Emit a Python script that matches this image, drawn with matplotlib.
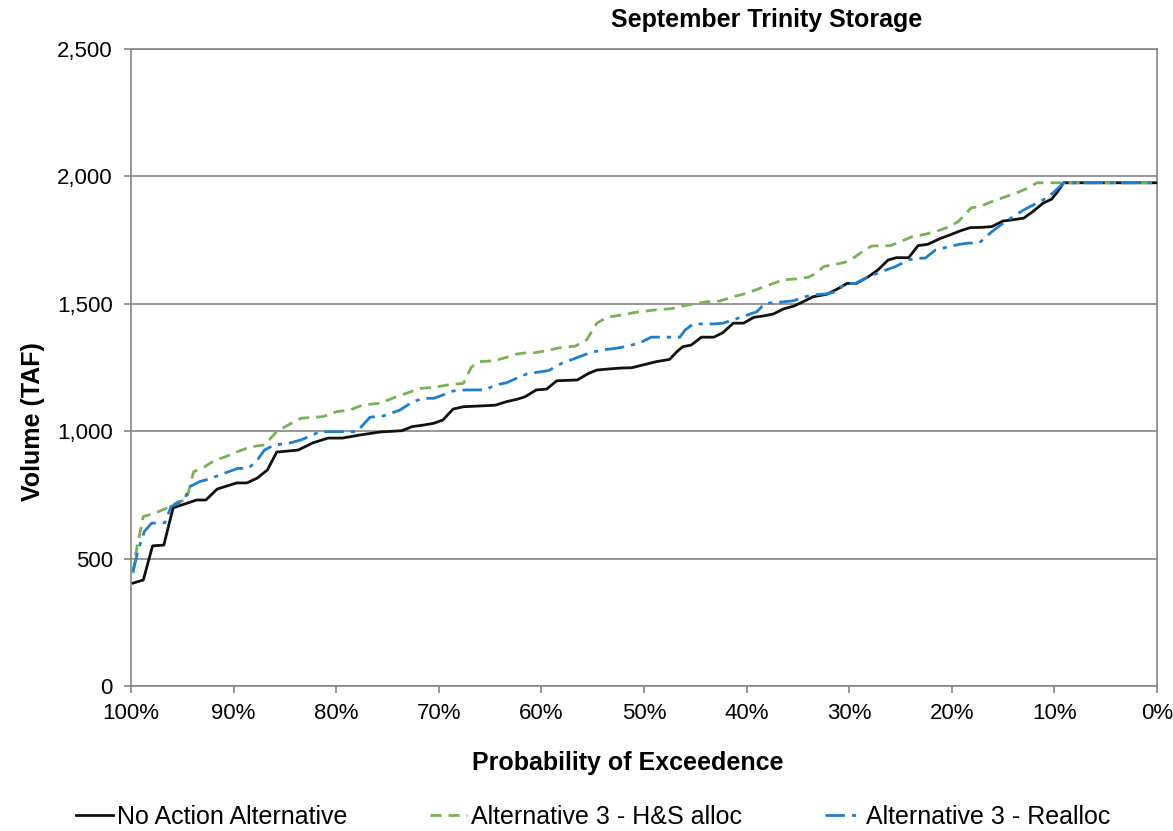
import matplotlib
matplotlib.use("Agg")
import matplotlib.pyplot as plt
from matplotlib.ticker import FuncFormatter, StrMethodFormatter

plt.rcParams["font.family"] = ["Liberation Sans", "DejaVu Sans"]

# -----------------------------
# Data (exceedance %, volume TAF)
# -----------------------------
na_pct = [99.8, 98.8, 97.9, 96.8, 95.9, 93.6, 92.7, 91.6, 89.7, 88.7, 87.7, 86.7,
          85.8, 83.7, 82.3, 80.8, 79.4, 77.7, 75.7, 73.6, 72.6, 71.5, 70.5, 69.6,
          68.6, 67.6, 64.5, 63.4, 62.4, 61.6, 60.5, 59.5, 58.5, 56.5, 55.4, 54.6,
          53.2, 52.2, 51.2, 50.1, 48.8, 47.5, 46.8, 46.2, 45.4, 44.4, 43.2, 42.3,
          41.3, 40.3, 39.3, 38.4, 37.4, 36.4, 35.4, 34.5, 33.5, 32.2, 31.2, 30.2,
          29.3, 28.1, 27.2, 26.2, 25.4, 24.2, 23.3, 22.3, 21.1, 20.2, 19.2, 18.2,
          17.1, 16.1, 15.0, 14.2, 13.0, 12.1, 11.1, 10.3, 9.8, 9.1, 0.0]
na_taf = [404, 416, 550, 553, 699, 730, 730, 773, 797, 797, 816, 848,
          918, 926, 954, 973, 973, 985, 997, 1002, 1018, 1024, 1031, 1044,
          1087, 1096, 1102, 1116, 1125, 1135, 1162, 1165, 1198, 1201, 1227, 1240,
          1245, 1248, 1249, 1260, 1273, 1282, 1312, 1332, 1338, 1369, 1369, 1387,
          1424, 1424, 1447, 1452, 1460, 1480, 1491, 1508, 1528, 1537, 1557, 1580,
          1580, 1607, 1633, 1672, 1681, 1681, 1728, 1734, 1757, 1770, 1786, 1799,
          1800, 1803, 1825, 1829, 1836, 1862, 1895, 1910, 1934, 1975, 1975]

hs_pct = [99.8, 99.6, 98.8, 97.7, 96.2, 95.4, 94.6, 93.9, 92.8, 91.8, 90.9, 89.6,
          88.3, 87.0, 85.8, 84.7, 83.4, 81.3, 79.9, 78.7, 77.4, 75.7, 74.1, 73.0,
          71.8, 70.5, 69.2, 67.6, 66.8, 66.0, 64.5, 63.4, 62.4, 61.4, 60.6, 59.2,
          58.0, 56.7, 55.6, 54.6, 53.6, 52.2, 50.6, 48.9, 47.3, 46.3, 45.2, 43.9,
          42.6, 41.3, 40.0, 38.7, 37.6, 36.4, 35.1, 34.0, 33.2, 32.5, 31.2, 30.4,
          29.4, 28.5, 27.8, 26.0, 25.0, 23.9, 22.6, 21.6, 20.2, 19.4, 18.7, 18.1,
          17.3, 16.1, 14.3, 13.4, 12.5, 11.7, 0.0]
hs_taf = [442, 508, 665, 678, 704, 723, 730, 841, 861, 887, 898, 920,
          939, 946, 998, 1024, 1051, 1057, 1077, 1083, 1103, 1110, 1136, 1151,
          1168, 1172, 1181, 1188, 1253, 1273, 1277, 1290, 1303, 1308, 1308, 1319,
          1329, 1334, 1358, 1424, 1447, 1456, 1468, 1476, 1481, 1491, 1499, 1508,
          1511, 1528, 1541, 1561, 1577, 1594, 1598, 1604, 1620, 1646, 1656, 1663,
          1685, 1711, 1727, 1728, 1744, 1763, 1773, 1783, 1803, 1822, 1851, 1877,
          1881, 1901, 1927, 1940, 1956, 1975, 1975]

re_pct = [99.8, 99.3, 98.7, 98.0, 96.7, 96.1, 94.8, 94.3, 93.3, 92.2, 90.9, 89.6,
          88.6, 87.8, 87.0, 86.0, 84.7, 83.4, 81.6, 78.0, 76.7, 75.4, 73.8, 72.5,
          71.5, 70.5, 69.6, 68.6, 67.3, 65.5, 64.5, 63.4, 62.4, 61.4, 60.6, 59.3,
          58.0, 56.7, 55.4, 54.1, 52.8, 51.5, 50.2, 49.3, 46.5, 46.0, 45.2, 43.2,
          42.3, 41.3, 40.2, 39.0, 38.2, 37.1, 35.4, 34.5, 33.5, 32.2, 31.2, 30.4,
          29.4, 28.1, 26.8, 25.5, 24.2, 23.4, 22.6, 21.6, 20.3, 19.2, 18.4, 17.3,
          16.1, 15.0, 13.7, 12.7, 11.7, 10.8, 10.0, 9.1, 0.0]
re_taf = [449, 534, 606, 639, 641, 704, 730, 782, 802, 815, 835, 854,
          854, 880, 926, 946, 952, 966, 998, 998, 1055, 1060, 1083, 1116,
          1129, 1129, 1142, 1158, 1162, 1162, 1181, 1190, 1208, 1225, 1230, 1238,
          1267, 1286, 1306, 1319, 1325, 1334, 1351, 1369, 1369, 1397, 1421, 1421,
          1424, 1437, 1452, 1469, 1502, 1505, 1512, 1526, 1535, 1539, 1548, 1580,
          1580, 1607, 1627, 1646, 1672, 1679, 1679, 1711, 1724, 1734, 1738, 1740,
          1783, 1816, 1851, 1875, 1895, 1914, 1940, 1975, 1975]

x_ticks = [100, 90, 80, 70, 60, 50, 40, 30, 20, 10, 0]
y_ticks = [0, 500, 1000, 1500, 2000, 2500]

# -----------------------------
# Plot
# -----------------------------
fig = plt.figure(figsize=(11.73, 8.31), dpi=100)
ax = fig.add_axes([131 / 1173, 1 - 686 / 831, (1157 - 131) / 1173, (686 - 49) / 831])

grid_c = "#858585"
ax.plot(na_pct, na_taf, color="#111111", lw=2.0, label="No Action Alternative", zorder=3)
ax.plot(hs_pct, hs_taf, color="#77b255", lw=2.0, linestyle=(0, (4, 2.5)),
        label="Alternative 3 - H&S alloc", zorder=4)
ax.plot(re_pct, re_taf, color="#1f7fcf", lw=2.0, linestyle=(0, (7, 2.5, 1.5, 2.5)),
        label="Alternative 3 - Realloc", zorder=5)

ax.set_xlim(100, 0)
ax.set_ylim(0, 2500)
ax.set_xticks(x_ticks)
ax.set_yticks(y_ticks)
ax.xaxis.set_major_formatter(FuncFormatter(lambda v, p: f"{v:.0f}%"))
ax.yaxis.set_major_formatter(StrMethodFormatter("{x:,.0f}"))
ax.tick_params(axis="both", labelsize=16, direction="out", length=5,
               color=grid_c, width=1.2)
ax.tick_params(axis="x", pad=7)
ax.tick_params(axis="y", pad=8)

ax.grid(axis="y", color=grid_c, lw=1.2)
ax.set_axisbelow(True)
for s in ax.spines.values():
    s.set_color(grid_c)
    s.set_linewidth(1.2)

fig.text(767 / 1173, 1 - 20 / 831, "September Trinity Storage", ha="center",
         va="center", fontsize=18, fontweight="bold")
fig.text(628 / 1173, 1 - 763 / 831, "Probability of Exceedence", ha="center",
         va="center", fontsize=18, fontweight="bold")
fig.text(33 / 1173, 1 - 422 / 831, "Volume (TAF)", ha="center", va="center",
         rotation=90, fontsize=18, fontweight="bold")

fig.legend(loc="center", bbox_to_anchor=(593 / 1173, 1 - 817 / 831), ncol=3,
           frameon=False, fontsize=18, handlelength=1.5, handletextpad=0.15,
           columnspacing=3.3)

fig.savefig("out.png", dpi=100)
